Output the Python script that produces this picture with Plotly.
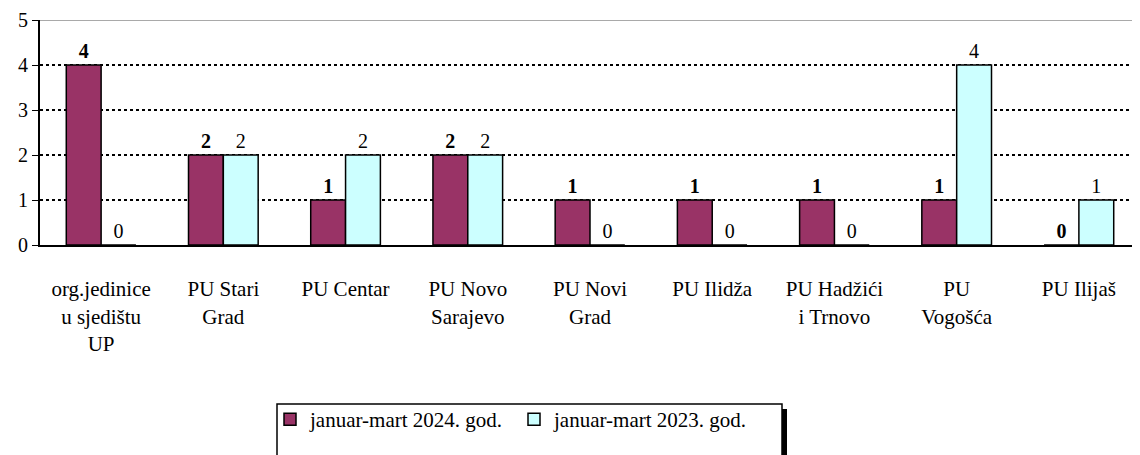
import plotly.graph_objects as go

categories = ["org.jedinice<br>u sjedištu<br>UP", "PU Stari<br>Grad", "PU Centar",
              "PU Novo<br>Sarajevo", "PU Novi<br>Grad", "PU Ilidža",
              "PU Hadžići<br>i Trnovo", "PU<br>Vogošća", "PU Ilijaš"]
series_2024 = [4, 2, 1, 2, 1, 1, 1, 1, 0]
series_2023 = [0, 2, 2, 2, 0, 0, 0, 4, 1]
name_2024 = "januar-mart 2024. god."
name_2023 = "januar-mart 2023. god."
y_ticks = [0, 1, 2, 3, 4, 5]

FONT = "Liberation Serif"
OFF = 8  # page body margin
W, H = 1140 - OFF, 455 - OFF

fig = go.Figure()
fig.add_trace(go.Bar(
    x=categories, y=series_2024, name=name_2024,
    marker=dict(color="#993366", line=dict(color="black", width=1.5)),
    text=series_2024, texttemplate="<b>%{text}</b>", textposition="outside",
    textfont=dict(family=FONT, size=20, color="black"), cliponaxis=False,
))
fig.add_trace(go.Bar(
    x=categories, y=series_2023, name=name_2023,
    marker=dict(color="#CCFFFF", line=dict(color="black", width=1.5)),
    text=series_2023, texttemplate="%{text}", textposition="outside",
    textfont=dict(family=FONT, size=20, color="black"), cliponaxis=False,
))

fig.update_layout(
    width=W, height=H,
    margin=dict(l=40 - OFF, r=0, t=20 - OFF, b=H - (245 - OFF)),
    paper_bgcolor="white", plot_bgcolor="white",
    barmode="group", bargap=0.43, bargroupgap=0,
    font=dict(family=FONT, size=20, color="black"),
    showlegend=True,
    legend=dict(
        orientation="h", xref="container", yref="container",
        x=(270 - OFF) / W, xanchor="left", y=1 - (399 - OFF) / H, yanchor="top",
        borderwidth=0, bgcolor="rgba(0,0,0,0)",
        font=dict(family=FONT, size=21, color="black"),
        itemwidth=30, tracegroupgap=0, entrywidth=199, entrywidthmode="pixels",
    ),
    xaxis=dict(
        type="category", showgrid=False, showline=True, linecolor="black", linewidth=2,
        ticks="", ticklabelstandoff=24, tickfont=dict(family=FONT, size=21),
        fixedrange=True, automargin=False,
    ),
    yaxis=dict(
        range=[0, 5], tickvals=y_ticks, showline=True, linecolor="black", linewidth=2,
        ticks="outside", ticklen=6, tickcolor="black", tickwidth=1,
        showgrid=True, gridcolor="black", gridwidth=2, griddash="dot",
        zeroline=False, tickfont=dict(family=FONT, size=20), automargin=False,
    ),
)

fig.add_shape(type="line", xref="paper", yref="y", x0=0, x1=1, y0=5, y1=5,
              line=dict(color="#555555", width=1), layer="below")

# legend frame with drop shadow (paper coords from page pixels)
def px_x(p):
    return (p - 40) / 1100

def px_y(p):
    return (245 - p) / 225

fig.add_shape(type="rect", xref="paper", yref="paper",
              x0=px_x(782), x1=px_x(787), y0=px_y(470), y1=px_y(409),
              line=dict(width=0), fillcolor="black", layer="below")
fig.add_shape(type="rect", xref="paper", yref="paper",
              x0=px_x(277), x1=px_x(782), y0=px_y(470), y1=px_y(404),
              line=dict(color="black", width=1.5), fillcolor="white", layer="below")

fig.write_html("out.html")
